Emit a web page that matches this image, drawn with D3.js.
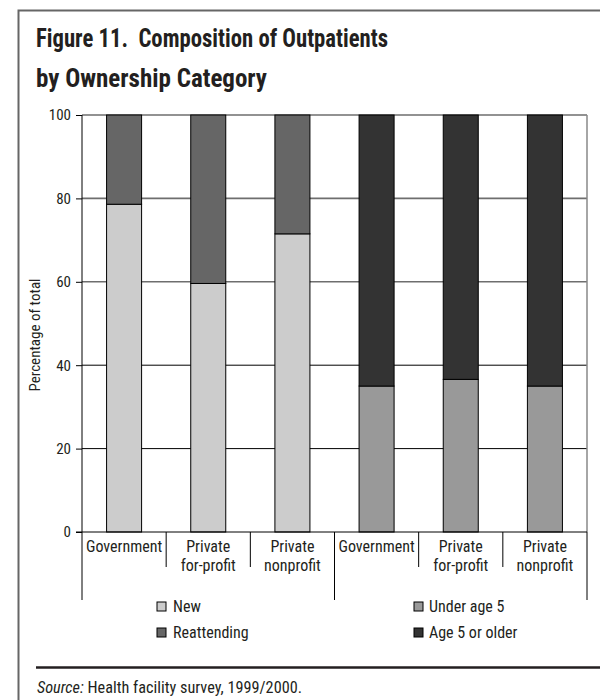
<!DOCTYPE html>
<html>
<head>
<meta charset="utf-8">
<script src="https://cdn.jsdelivr.net/npm/d3@7"></script>
<style>
  html, body { margin: 0; padding: 0; background: #fff; }
  svg { display: block; }
  .cond { font-family: "Liberation Sans Narrow", "Arial Narrow", "Roboto Condensed", "DejaVu Sans Condensed", sans-serif; }
</style>
</head>
<body>
<script>
// ---- data ----
const categories = ["Government", "Private|for-profit", "Private|nonprofit"];
const newPct = [78.6, 59.6, 71.5];
const reattendingPct = [21.4, 40.4, 28.5];
const underFivePct = [35.0, 36.6, 35.0];
const fivePlusPct = [65.0, 63.4, 65.0];
const yTicks = [0, 20, 40, 60, 80, 100];
const legendLeft = ["New", "Reattending"];
const legendRight = ["Under age 5", "Age 5 or older"];

const colors = { "New": "#cccccc", "Reattending": "#666666", "Under age 5": "#999999", "Age 5 or older": "#333333" };

// rows for stacking
const rows = [];
categories.forEach((c, i) => rows.push({ id: "A" + i, cat: c, bottom: newPct[i], top: reattendingPct[i], keys: ["New", "Reattending"] }));
categories.forEach((c, i) => rows.push({ id: "B" + i, cat: c, bottom: underFivePct[i], top: fivePlusPct[i], keys: ["Under age 5", "Age 5 or older"] }));

const W = 600, H = 700;
const svg = d3.select("body").append("svg").attr("width", W).attr("height", H);

// frame
svg.append("path").attr("d", "M18.5,700 V10.5 H600").attr("fill", "none").attr("stroke", "#666").attr("stroke-width", 2);

// title
const title = svg.append("g").attr("class", "cond").attr("font-weight", "bold").attr("font-size", 26).attr("fill", "#231f20");
title.append("text").attr("x", 36).attr("y", 47).attr("textLength", 352).attr("lengthAdjust", "spacingAndGlyphs").attr("xml:space", "preserve").text("Figure 11.  Composition of Outpatients");
title.append("text").attr("x", 36).attr("y", 87).attr("textLength", 231).attr("lengthAdjust", "spacingAndGlyphs").text("by Ownership Category");

const pLeft = 82, pRight = 587, pTop = 115, pBottom = 532;
const x = d3.scaleBand().domain(rows.map(d => d.id)).range([pLeft, pRight]).paddingInner(0.584).paddingOuter(0.292);
const y = d3.scaleLinear().domain([0, 100]).range([pBottom, pTop]);

// gridlines
svg.append("g").selectAll("line").data(yTicks.filter(t => t > 0)).join("line")
  .attr("x1", pLeft).attr("x2", pRight).attr("y1", d => y(d)).attr("y2", d => y(d))
  .attr("stroke", d => d >= 60 ? "#6e6e6e" : "#000").attr("stroke-width", d => d >= 60 ? 1.6 : 1);

// right border of plot
svg.append("line").attr("x1", pRight).attr("x2", pRight).attr("y1", pTop).attr("y2", pBottom).attr("stroke", "#888").attr("stroke-width", 1.5);

// y axis
const yAxis = d3.axisLeft(y).tickValues(yTicks).tickSize(6).tickPadding(5);
const gy = svg.append("g").attr("transform", `translate(${pLeft},0)`).call(yAxis);
gy.select(".domain").remove();
gy.selectAll(".tick line").attr("stroke", "#000");
gy.selectAll(".tick text").attr("class", "cond").attr("font-size", 15).attr("fill", "#231f20");
svg.append("line").attr("x1", pLeft).attr("x2", pLeft).attr("y1", pTop).attr("y2", 600).attr("stroke", "#000").attr("stroke-width", 1);

// y axis title
svg.append("text").attr("class", "cond").attr("font-size", 15).attr("fill", "#231f20")
  .attr("text-anchor", "middle").attr("transform", `translate(40,335) rotate(-90)`)
  .text("Percentage of total");

// bars
const stacked = rows.map(r => [
  { id: r.id, key: r.keys[0], y0: 0, y1: r.bottom },
  { id: r.id, key: r.keys[1], y0: r.bottom, y1: r.bottom + r.top }
]).flat();
svg.append("g").selectAll("rect").data(stacked).join("rect")
  .attr("x", d => x(d.id)).attr("width", x.bandwidth())
  .attr("y", d => y(Math.min(d.y1, 100))).attr("height", d => y(d.y0) - y(Math.min(d.y1, 100)))
  .attr("fill", d => colors[d.key]).attr("stroke", "#000").attr("stroke-width", 1);

// baseline
svg.append("line").attr("x1", pLeft - 6).attr("x2", pRight).attr("y1", pBottom).attr("y2", pBottom).attr("stroke", "#000").attr("stroke-width", 1);

// category separators
const step = x.step();
const seps = d3.range(1, 7).map(i => ({ xp: pLeft + i * step, long: i % 3 === 0 }));
svg.append("g").selectAll("line").data(seps).join("line")
  .attr("x1", d => d.xp).attr("x2", d => d.xp).attr("y1", pBottom).attr("y2", d => d.long ? 600 : 567)
  .attr("stroke", "#000").attr("stroke-width", 1);

// category labels
const lab = svg.append("g").attr("class", "cond").attr("font-size", 16).attr("fill", "#231f20").attr("text-anchor", "middle");
rows.forEach(r => {
  const parts = r.cat.split("|");
  const cx = x(r.id) + x.bandwidth() / 2;
  const t = lab.append("text").attr("x", cx).attr("y", 552);
  parts.forEach((p, k) => t.append("tspan").attr("x", cx).attr("dy", k === 0 ? 0 : 18.5).text(p));
});

// legend
const leg = svg.append("g").attr("class", "cond").attr("font-size", 16).attr("fill", "#231f20");
function legendCol(items, sx, tx) {
  items.forEach((k, i) => {
    const yy = 602 + i * 26;
    leg.append("rect").attr("x", sx).attr("y", yy).attr("width", 9).attr("height", 9)
      .attr("fill", colors[k]).attr("stroke", "#000").attr("stroke-width", 1);
    leg.append("text").attr("x", tx).attr("y", yy + 10).text(k);
  });
}
legendCol(legendLeft, 157, 173);
legendCol(legendRight, 414, 429);

// bottom rule and source
svg.append("line").attr("x1", 36).attr("x2", 600).attr("y1", 667.5).attr("y2", 667.5).attr("stroke", "#231f20").attr("stroke-width", 2.5);
const src = svg.append("text").attr("x", 37).attr("y", 693).attr("class", "cond")
  .attr("font-size", 17).attr("fill", "#231f20").attr("textLength", 265).attr("lengthAdjust", "spacingAndGlyphs");
src.append("tspan").attr("font-style", "italic").text("Source:");
src.append("tspan").text(" Health facility survey, 1999/2000.");
</script>
</body>
</html>
